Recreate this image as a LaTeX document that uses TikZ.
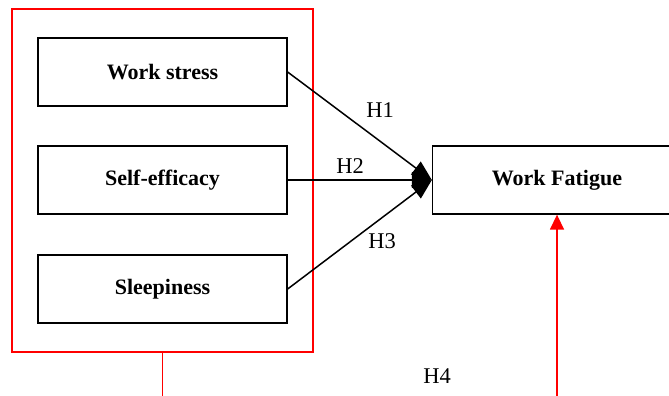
\documentclass[tikz,border=0pt]{standalone}
\usepackage{fontspec}
\setmainfont{Liberation Serif}
\usetikzlibrary{arrows.meta}

\begin{document}
\begin{tikzpicture}[x=1pt, y=1pt,
    varbox/.style={draw, line width=1.3pt, minimum width=249, minimum height=68, inner sep=0pt,
        font=\fontsize{22}{26}\selectfont\bfseries},
    hyp/.style={line width=1.5pt, -{Triangle[length=20pt, width=16pt]}},
    hlabel/.style={font=\fontsize{22.5}{26}\selectfont, inner sep=0pt}]

    \useasboundingbox (0,0) rectangle (669,-396);

    % independent variables inside the red frame
    \node[draw=red, line width=1.5pt, minimum width=301, minimum height=343, inner sep=0pt] (group) at (162.5,-180.5) {};
    \node[varbox] (stress) at (162.5,-72) {Work stress};
    \node[varbox] (efficacy) at (162.5,-180) {Self-efficacy};
    \node[varbox] (sleep) at (162.5,-289) {Sleepiness};

    % dependent variable
    \node[varbox] (fatigue) at (557,-180) {Work Fatigue};

    % hypotheses H1-H3
    \draw[hyp] (stress.east) -- (fatigue.west);
    \draw[hyp] (efficacy.east) -- (fatigue.west);
    \draw[hyp] (sleep.east) -- (fatigue.west);
    \node[hlabel] (h1) at (380,-110) {H1};
    \node[hlabel] (h2) at (350,-166) {H2};
    \node[hlabel] (h3) at (382,-241) {H3};

    % hypothesis H4
    \coordinate (groupout) at (162.5,-396);
    \coordinate (fatiguein) at (557,-396);
    \draw[red, line width=1.5pt] (group.south) -- (groupout);
    \draw[red, line width=1.5pt, -{Triangle[length=15pt, width=14pt]}] (fatiguein) -- (fatigue.south);
    \node[hlabel] (h4) at (437,-376) {H4};

\end{tikzpicture}
\end{document}
